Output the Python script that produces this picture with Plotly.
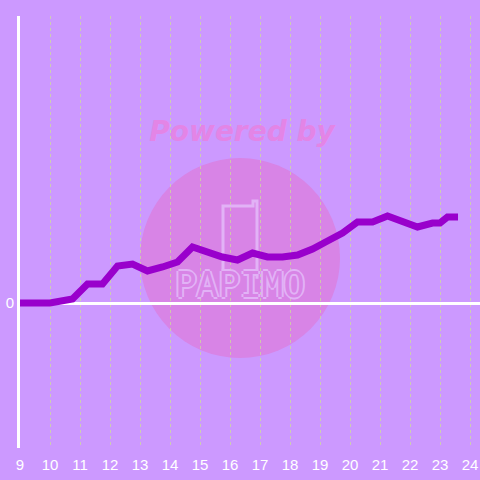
import plotly.graph_objects as go

# chart colours
BG = "#CC99FF"
LINE = "#9900CC"
GRID = "rgba(205,225,150,0.7)"
BLOB = "#D884E6"
MARK = "#E2B2F6"

# data: hour of day vs. value
hours = [9.0, 10.0, 10.75, 11.25, 11.75, 12.25, 12.75, 13.25, 13.75, 14.25,
         14.75, 15.25, 15.75, 16.25, 16.75, 17.25, 17.75, 18.25, 18.75, 19.25,
         19.75, 20.25, 20.75, 21.25, 21.75, 22.25, 22.75, 23.0, 23.25, 23.6]
values = [0.0, 0.0, 0.4, 1.9, 1.9, 3.7, 3.9, 3.2, 3.6, 4.1,
          5.6, 5.1, 4.6, 4.3, 5.0, 4.6, 4.6, 4.8, 5.4, 6.2,
          7.0, 8.1, 8.1, 8.7, 8.1, 7.6, 8.0, 8.0, 8.6, 8.6]

tick_hours = list(range(9, 25))
tick_labels = [str(h) for h in tick_hours]

fig = go.Figure()

# watermark text (drawn under the data line)
fig.add_trace(
    go.Scatter(
        x=[16.4], y=[16.9],
        mode="text",
        text=["<b><i>Powered by</i></b>"],
        textfont=dict(family="DejaVu Sans", size=28, color="#E385E6"),
        hoverinfo="skip",
        showlegend=False,
    )
)
fig.add_trace(
    go.Scatter(
        x=[16.33], y=[1.5],
        mode="text",
        text=["PAPIMO"],
        textfont=dict(
            family="DejaVu Sans Mono", size=36, color=BLOB,
            shadow="2px 0 %s, -2px 0 %s, 0 2px %s, 0 -2px %s" % ((MARK,) * 4),
        ),
        hoverinfo="skip",
        showlegend=False,
    )
)

# data line
fig.add_trace(
    go.Scatter(
        x=hours, y=values,
        mode="lines",
        line=dict(color=LINE, width=7),
        hoverinfo="skip",
        showlegend=False,
    )
)

# pink circle and phone outline of the watermark
fig.add_shape(
    type="circle", xref="paper", yref="paper",
    x0=0.2609, x1=0.6957, y0=0.2083, y1=0.6713,
    fillcolor=BLOB, line=dict(width=0), layer="below",
)
fig.add_shape(
    type="path", xref="paper", yref="paper",
    path="M 0.4413,0.392 L 0.4413,0.5602 L 0.5065,0.5602 L 0.5065,0.572 "
         "L 0.5152,0.572 L 0.5152,0.392",
    line=dict(color=MARK, width=3), layer="below",
)

fig.update_layout(
    width=480, height=480,
    margin=dict(l=20, r=0, t=16, b=32),
    paper_bgcolor=BG,
    plot_bgcolor=BG,
    font=dict(family="Liberation Sans", size=15, color="white"),
    xaxis=dict(
        range=[9, 24.333],
        tickvals=tick_hours,
        ticktext=tick_labels,
        showgrid=True,
        gridcolor=GRID,
        gridwidth=1,
        griddash="3px,3px",
        zeroline=False,
        showline=False,
        ticks="",
        ticklabelstandoff=6,
    ),
    yaxis=dict(
        range=[-14.5, 28.7],
        tickvals=[0],
        ticktext=["0"],
        showgrid=False,
        zeroline=True,
        zerolinecolor="white",
        zerolinewidth=3,
        showline=True,
        linecolor="white",
        linewidth=3,
        ticks="",
        ticklabelstandoff=0,
    ),
)

fig.write_html(
    "out.html",
    config={"displayModeBar": False, "staticPlot": True},
    post_script="document.body.style.margin='0';",
)
